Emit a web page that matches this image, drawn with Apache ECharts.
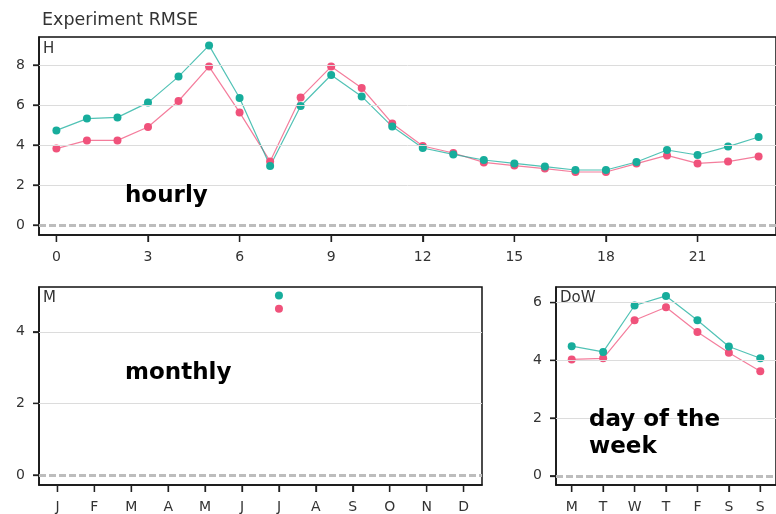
<!DOCTYPE html>
<html>
<head>
<meta charset="utf-8">
<script src="https://cdn.jsdelivr.net/npm/echarts@6/dist/echarts.min.js"></script>
<style>
  html, body { margin: 0; padding: 0; background: #fff; }
  #chart { width: 776px; height: 514px; background: #fff; }
</style>
</head>
<body>
<div id="chart"></div>
<script>
// Hourly RMSE per hour of day (0..23)
const hours = [0,1,2,3,4,5,6,7,8,9,10,11,12,13,14,15,16,17,18,19,20,21,22,23];
const hourlyTeal = [4.73,5.32,5.38,6.12,7.42,8.98,6.35,2.95,5.95,7.5,6.43,4.92,3.85,3.53,3.25,3.08,2.92,2.75,2.75,3.15,3.75,3.5,3.92,4.4];
const hourlyPink = [3.82,4.23,4.23,4.9,6.2,7.92,5.63,3.18,6.37,7.92,6.85,5.08,3.95,3.6,3.13,2.97,2.82,2.65,2.65,3.07,3.48,3.08,3.17,3.43];
const hourTicks = [0,3,6,9,12,15,18,21];
const hourlyYTicks = [0,2,4,6,8];

// Monthly RMSE (only July has a value)
const months = ['J','F','M','A','M','J','J','A','S','O','N','D'];
const monthlyTeal = [null,null,null,null,null,null,5.01,null,null,null,null,null];
const monthlyPink = [null,null,null,null,null,null,4.64,null,null,null,null,null];
const monthlyYTicks = [0,2,4];

// Day-of-week RMSE
const days = ['M','T','W','T','F','S','S'];
const dowTeal = [4.49,4.29,5.9,6.23,5.39,4.48,4.07];
const dowPink = [4.03,4.07,5.39,5.84,4.98,4.26,3.62];
const dowYTicks = [0,2,4,6];

const TEAL = '#17ad9c';
const PINK = '#f0527b';
const FONT = 'DejaVu Sans';
const LABEL_COLOR = '#333';
const FRAME = '#111';
const TICK_COLOR = '#222';

const chart = echarts.init(document.getElementById('chart'), null, { renderer: 'canvas' });

function gridBox(left, top, width, height) {
  return { left, top, width, height, show: true, borderColor: FRAME, borderWidth: 1.5 };
}

function frameLine() {
  return { show: true, onZero: false, lineStyle: { color: FRAME, width: 1.5 } };
}

function yAxisFor(gridIndex, min, max, ticks) {
  return {
    type: 'value', gridIndex, min, max,
    axisLine: frameLine(),
    axisTick: { show: true, length: 6, lineStyle: { color: TICK_COLOR, width: 1.3 }, customValues: ticks },
    axisLabel: { show: true, color: LABEL_COLOR, fontFamily: FONT, fontSize: 14, margin: 14, customValues: ticks },
    splitLine: { show: false }
  };
}

function categoryX(gridIndex, data) {
  return {
    type: 'category', gridIndex, data,
    axisLine: frameLine(),
    axisTick: { show: true, alignWithLabel: true, length: 7, lineStyle: { color: TICK_COLOR, width: 1.3 } },
    axisLabel: { color: LABEL_COLOR, fontFamily: FONT, fontSize: 14, margin: 15 },
    splitLine: { show: false }
  };
}

// Horizontal guide lines plus the dashed zero line, attached to a grid's first series
function guideLines(ticks) {
  return {
    silent: true, symbol: ['none', 'none'], animation: false,
    label: { show: false },
    data: [
      ...ticks.filter(v => v !== 0).map(v => ({ yAxis: v, lineStyle: { color: '#dcdcdc', width: 1, type: 'solid' } })),
      { yAxis: 0, lineStyle: { color: '#bdbdbd', width: 3, type: [7, 3] } }
    ]
  };
}

// Outward tick marks drawn through the axis scale (x ticks below the frame, y ticks left of it)
function tickSeries(xIdx, yIdx, dim, values) {
  return {
    type: 'custom', xAxisIndex: xIdx, yAxisIndex: yIdx, clip: false, silent: true, z: 5,
    data: values.map(v => (dim === 'x' ? [v, 0] : [0, v])),
    renderItem: function (params, api) {
      const cs = params.coordSys;
      if (dim === 'x') {
        const px = api.coord([api.value(0), 0])[0];
        const y0 = cs.y + cs.height;
        return { type: 'line', shape: { x1: px, y1: y0, x2: px, y2: y0 + 7 },
                 style: { stroke: TICK_COLOR, lineWidth: 1.3 } };
      }
      const py = api.coord([0, api.value(1)])[1];
      return { type: 'line', shape: { x1: cs.x - 6, y1: py, x2: cs.x, y2: py },
               style: { stroke: TICK_COLOR, lineWidth: 1.3 } };
    }
  };
}

function dataSeries(xIdx, yIdx, data, color, guides) {
  const s = {
    type: 'line', xAxisIndex: xIdx, yAxisIndex: yIdx, data, z: 3,
    symbol: 'circle', symbolSize: 8, showSymbol: true, connectNulls: false,
    itemStyle: { color, borderWidth: 0 },
    lineStyle: { color, width: 1.2, opacity: 0.75 }
  };
  if (guides) s.markLine = guideLines(guides);
  return s;
}

const hourlyPairs = (vals) => hours.map((h, i) => [h, vals[i]]);

const option = {
  animation: false,
  title: {
    text: 'Experiment RMSE', left: 37, top: 6,
    textStyle: { fontFamily: FONT, fontSize: 17.5, fontWeight: 'normal', color: '#333' }
  },
  grid: [
    gridBox(39, 37, 741, 198),
    gridBox(39, 287, 443, 198),
    gridBox(556, 287, 222, 198)
  ],
  xAxis: [
    {
      type: 'value', gridIndex: 0, min: -0.57, max: 23.57,
      axisLine: frameLine(),
      axisTick: { show: true, length: 7, lineStyle: { color: TICK_COLOR, width: 1.3 }, customValues: hourTicks },
      axisLabel: { show: true, color: LABEL_COLOR, fontFamily: FONT, fontSize: 14, margin: 15, customValues: hourTicks },
      splitLine: { show: false }
    },
    categoryX(1, months),
    categoryX(2, days)
  ],
  yAxis: [
    yAxisFor(0, -0.5, 9.4, hourlyYTicks),
    yAxisFor(1, -0.28, 5.25, monthlyYTicks),
    yAxisFor(2, -0.32, 6.54, dowYTicks)
  ],
  series: [
    dataSeries(0, 0, hourlyPairs(hourlyPink), PINK, hourlyYTicks),
    dataSeries(0, 0, hourlyPairs(hourlyTeal), TEAL),
    tickSeries(0, 0, 'x', hourTicks),
    tickSeries(0, 0, 'y', hourlyYTicks),
    dataSeries(1, 1, monthlyPink, PINK, monthlyYTicks),
    dataSeries(1, 1, monthlyTeal, TEAL),
    tickSeries(1, 1, 'x', months.map((_, i) => i)),
    tickSeries(1, 1, 'y', monthlyYTicks),
    dataSeries(2, 2, dowPink, PINK, dowYTicks),
    dataSeries(2, 2, dowTeal, TEAL),
    tickSeries(2, 2, 'x', days.map((_, i) => i)),
    tickSeries(2, 2, 'y', dowYTicks)
  ],
  graphic: [
    { type: 'text', left: 43, top: 42, z: 10, style: { text: 'H', font: '15px "DejaVu Sans"', fill: '#333' } },
    { type: 'text', left: 43, top: 291, z: 10, style: { text: 'M', font: '15px "DejaVu Sans"', fill: '#333' } },
    { type: 'text', left: 560, top: 291, z: 10, style: { text: 'DoW', font: '15px "DejaVu Sans"', fill: '#333' } },
    { type: 'text', left: 125, top: 185, z: 10, style: { text: 'hourly', font: 'bold 23px "DejaVu Sans"', fill: '#000' } },
    { type: 'text', left: 125, top: 362, z: 10, style: { text: 'monthly', font: 'bold 23px "DejaVu Sans"', fill: '#000' } },
    { type: 'text', left: 589, top: 407, z: 10, style: { text: 'day of the\nweek', font: 'bold 23px "DejaVu Sans"', lineHeight: 27, fill: '#000' } }
  ]
};

chart.setOption(option);
</script>
</body>
</html>
